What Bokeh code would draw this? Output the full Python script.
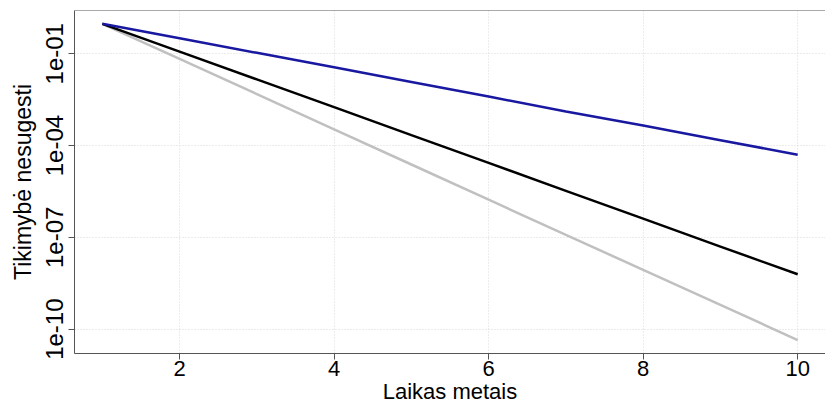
from bokeh.plotting import figure
from bokeh.models import FixedTicker, CustomJSTickFormatter, Span, Range1d
from bokeh.embed import file_html
from bokeh.resources import INLINE

# ---- data ----
years = [1, 2, 3, 4, 5, 6, 7, 8, 9, 10]
series_blue = [0.95, 0.32, 0.107, 0.036, 0.012, 0.0040, 0.0013, 4.5e-4, 1.5e-4, 5.0e-5]
series_black = [0.95, 0.117, 0.0145, 1.8e-3, 2.2e-4, 2.7e-5, 3.3e-6, 4.1e-7, 5.0e-8, 6.2e-9]
series_gray = [0.95, 0.068, 4.8e-3, 3.4e-4, 2.4e-5, 1.7e-6, 1.2e-7, 8.7e-9, 6.2e-10, 4.4e-11]

x_ticks = [2, 4, 6, 8, 10]
y_ticks = [1e-01, 1e-04, 1e-07, 1e-10]
y_tick_labels = ["1e-01", "1e-04", "1e-07", "1e-10"]
x_label = "Laikas metais"
y_label = "Tikimybė nesugesti"

x_start, x_end = 0.64, 10.36
y_start, y_end = 1.6e-11, 2.59

FONT = "Liberation Sans"
AXIS_COL = "#555555"

p = figure(width=825, height=406, y_axis_type="log",
           x_range=Range1d(x_start, x_end), y_range=Range1d(y_start, y_end),
           output_backend="svg", toolbar_location=None)
p.min_border_left = 74
p.min_border_right = 0
p.min_border_top = 10
p.min_border_bottom = 0
p.background_fill_color = "white"
p.border_fill_color = "white"
p.outline_line_color = None

# top frame line
p.add_layout(Span(location=y_end, dimension="width", line_color=AXIS_COL, line_width=1))

# lines (gray under black under blue)
p.line(years, series_gray, line_color="#c0c0c0", line_width=2.5)
p.line(years, series_black, line_color="#000000", line_width=2.5)
p.line(years, series_blue, line_color="#1818a0", line_width=2.5)

# axes
p.xaxis.ticker = FixedTicker(ticks=x_ticks)
p.yaxis.ticker = FixedTicker(ticks=y_ticks)
p.yaxis.formatter = CustomJSTickFormatter(
    args=dict(tvals=y_ticks, tlabels=y_tick_labels),
    code="""
    let best = 0, bd = Infinity;
    for (let i = 0; i < tvals.length; i++) {
        const d = Math.abs(Math.log10(tick) - Math.log10(tvals[i]));
        if (d < bd) { bd = d; best = i; }
    }
    return tlabels[best];
    """)
p.yaxis.major_label_orientation = "vertical"

for ax in (p.xaxis[0], p.yaxis[0]):
    ax.axis_line_color = AXIS_COL
    ax.axis_line_width = 1
    ax.major_tick_line_color = AXIS_COL
    ax.major_tick_out = 6
    ax.major_tick_in = 0
    ax.minor_tick_line_color = None
    ax.major_label_text_font = FONT
    ax.major_label_text_color = "#000000"
    ax.axis_label_text_font = FONT
    ax.axis_label_text_font_style = "normal"
    ax.axis_label_text_color = "#000000"

p.xaxis.major_label_text_font_size = "22px"
p.yaxis.major_label_text_font_size = "24px"
p.xaxis.axis_label = x_label
p.xaxis.axis_label_text_font_size = "22px"
p.xaxis.major_label_standoff = 1
p.xaxis.axis_label_standoff = 0
p.yaxis.axis_label = y_label
p.yaxis.axis_label_text_font_size = "23px"
p.yaxis.major_label_standoff = 5
p.yaxis.axis_label_standoff = 8

# grid
for g in (p.xgrid[0], p.ygrid[0]):
    g.grid_line_color = "#d9d9d9"
    g.grid_line_dash = "1 2"
    g.grid_line_width = 1

open("out.html", "w").write(file_html(p, INLINE))
